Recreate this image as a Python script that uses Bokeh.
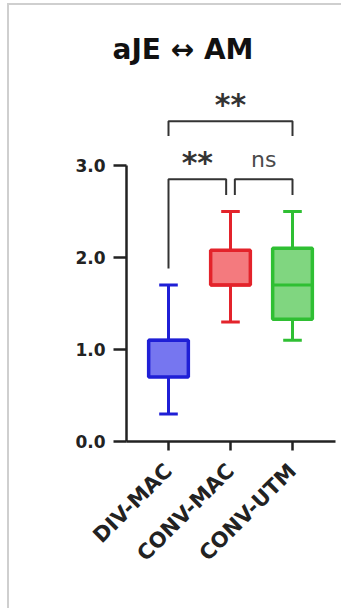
import numpy as np
from bokeh.plotting import figure
from bokeh.models import FixedTicker, Range1d, CustomJSTickFormatter, Title
from bokeh.core.properties import value
from bokeh.embed import file_html
from bokeh.resources import INLINE

# ---- data ----
categories = ["DIV-MAC", "CONV-MAC", "CONV-UTM"]
whisker_low = [0.3, 1.3, 1.1]
q1 = [0.7, 1.7, 1.33]
median = [1.1, 1.7, 1.7]
q3 = [1.1, 2.08, 2.1]
whisker_high = [1.7, 2.5, 2.5]
line_colors = ["#1f1fd6", "#e3232b", "#2fbf33"]
fill_colors = ["#7676f0", "#f47a7e", "#80d680"]

# comparisons: group a, group b, label, bracket level, leg bottoms
comp_a = [0, 1, 0]
comp_b = [1, 2, 2]
comp_label = ["**", "ns", "**"]
comp_level = [2.85, 2.85, 3.48]
comp_leg_a = [1.88, 2.68, 3.32]
comp_leg_b = [2.68, 2.68, 3.32]
y_ticks = [0, 1, 2, 3]
title_text = "aJE \u2194 AM"

xs = np.arange(1, len(categories) + 1)

p = figure(width=334, height=605, output_backend="svg", toolbar_location=None,
           x_range=Range1d(1 - 42 / 62, 1 - 42 / 62 + 209 / 62),
           y_range=Range1d(0, 372 / 92),
           min_border_left=117, min_border_right=8, min_border_top=64,
           min_border_bottom=169)
p.outline_line_color = None
p.xgrid.visible = False
p.ygrid.visible = False
p.background_fill_color = "white"
p.border_fill_color = "white"
p.styles = {"border-left": "2px solid #cfcfcf", "border-top": "2px solid #cfcfcf",
            "margin-left": "7px", "margin-top": "3px"}

# title
p.title = Title(text=title_text, align="left", offset=-14, text_font="DejaVu Sans",
                text_font_size="28px", text_font_style="bold", text_color="#111111",
                standoff=8)

# whiskers
p.segment(x0=xs, y0=whisker_low, x1=xs, y1=q1, line_color=line_colors, line_width=3)
p.segment(x0=xs, y0=q3, x1=xs, y1=whisker_high, line_color=line_colors, line_width=3)
cap = 0.15
p.segment(x0=xs - cap, y0=whisker_low, x1=xs + cap, y1=whisker_low, line_color=line_colors, line_width=3)
p.segment(x0=xs - cap, y0=whisker_high, x1=xs + cap, y1=whisker_high, line_color=line_colors, line_width=3)
# boxes
p.vbar(x=xs, width=0.64, bottom=q1, top=q3, fill_color=fill_colors, line_color=line_colors,
       line_width=3.5)
p.segment(x0=xs - 0.32, y0=median, x1=xs + 0.32, y1=median, line_color=line_colors, line_width=3)

# significance brackets
gap = 0.07
for a, b, lab, lev, la, lb in zip(comp_a, comp_b, comp_label, comp_level, comp_leg_a, comp_leg_b):
    xa = xs[a] + (gap if a == 1 else 0)
    xb = xs[b] - (gap if b == 1 else 0)
    p.line(x=[xa, xa, xb, xb], y=[la, lev, lev, lb], line_color="#333333", line_width=2)
    is_star = lab.startswith("*")
    p.text(x=[(xa + xb) / 2], y=[lev + (0.18 if is_star else 0.21)], text=[lab],
           text_align="center", text_baseline="alphabetic",
           text_font=value("DejaVu Sans"),
           text_font_size="30px" if is_star else "22px",
           text_font_style="bold" if is_star else "normal",
           text_color="#333333" if is_star else "#4a4a4a")

# axes
yax = p.yaxis[0]
yax.bounds = (0, 3)
yax.ticker = FixedTicker(ticks=y_ticks)
yax.formatter = CustomJSTickFormatter(code="return tick.toFixed(1);")
yax.major_tick_out = 13
yax.major_tick_in = 0
yax.minor_tick_out = 0
yax.minor_tick_in = 0
yax.axis_line_width = 2.5
yax.major_tick_line_width = 2.5
yax.axis_line_color = "#222222"
yax.major_tick_line_color = "#222222"
yax.major_label_text_font = "DejaVu Sans"
yax.major_label_text_font_size = "17px"
yax.major_label_text_font_style = "bold"
yax.major_label_text_color = "#222222"
yax.major_label_standoff = 8

xax = p.xaxis[0]
xax.ticker = FixedTicker(ticks=list(xs))
xax.major_label_overrides = {int(x): c for x, c in zip(xs, categories)}
xax.major_tick_out = 9
xax.major_tick_in = 0
xax.minor_tick_out = 0
xax.minor_tick_in = 0
xax.axis_line_width = 2.5
xax.major_tick_line_width = 2.5
xax.axis_line_color = "#222222"
xax.major_tick_line_color = "#222222"
xax.major_label_orientation = np.pi / 4
xax.major_label_text_font = "DejaVu Sans"
xax.major_label_text_font_size = "21px"
xax.major_label_text_font_style = "bold"
xax.major_label_text_color = "#222222"
xax.major_label_standoff = 17

open("out.html", "w").write(file_html(p, INLINE))
